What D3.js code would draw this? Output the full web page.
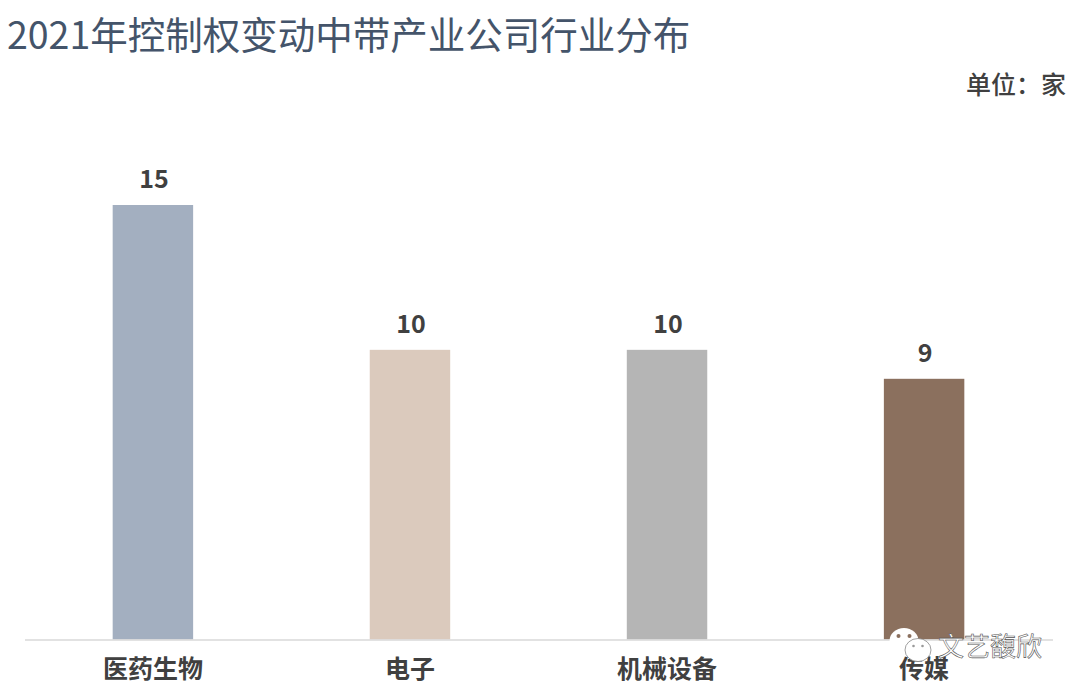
<!DOCTYPE html>
<html>
<head>
<meta charset="utf-8">
<script src="https://cdn.jsdelivr.net/npm/d3@7"></script>
<style>
  html, body { margin: 0; padding: 0; background: #fff; }
  svg { display: block; }
  text { font-family: "Noto Sans CJK SC", "Noto Sans", sans-serif; }
</style>
</head>
<body>
<div id="chart"></div>
<script>
var categories = ["医药生物", "电子", "机械设备", "传媒"];
var counts = [15, 10, 10, 9];
var barColors = ["#a3afc0", "#dbcabd", "#b5b5b5", "#8b705e"];
var titleText = "2021年控制权变动中带产业公司行业分布";
var unitText = "单位：家";
var watermarkText = "文艺馥欣";

var width = 1076, height = 694;

var svg = d3.select("#chart").append("svg")
    .attr("width", width)
    .attr("height", height);

var x = d3.scaleBand()
    .domain(categories)
    .range([24.5, 1052.5])
    .paddingInner(0.687)
    .paddingOuter(0.343);

var y = d3.scaleLinear()
    .domain([0, 15])
    .range([639.5, 205]);

svg.append("text")
    .attr("x", 7)
    .attr("y", 49)
    .attr("font-size", 37.5)
    .attr("fill", "#44546a")
    .text(titleText);

svg.append("text")
    .attr("x", 1066)
    .attr("y", 94)
    .attr("text-anchor", "end")
    .attr("font-size", 25)
    .attr("font-weight", 500)
    .attr("fill", "#404040")
    .text(unitText);

svg.selectAll("rect.bar")
    .data(counts)
    .enter().append("rect")
    .attr("class", "bar")
    .attr("x", function(d, i) { return x(categories[i]); })
    .attr("y", function(d) { return y(d); })
    .attr("width", x.bandwidth())
    .attr("height", function(d) { return y(0) - y(d); })
    .attr("fill", function(d, i) { return barColors[i]; });

svg.selectAll("text.value")
    .data(counts)
    .enter().append("text")
    .attr("class", "value")
    .attr("x", function(d, i) { return x(categories[i]) + x.bandwidth() / 2 + 1; })
    .attr("y", function(d) { return y(d) - 17; })
    .attr("text-anchor", "middle")
    .attr("font-size", 25)
    .attr("font-weight", 700)
    .attr("fill", "#404040")
    .text(function(d) { return d; });

var xAxis = svg.append("g")
    .attr("transform", "translate(0," + y(0) + ")")
    .call(d3.axisBottom(x).tickSize(0).tickPadding(21));

xAxis.select(".domain").attr("stroke", "#d9d9d9").attr("stroke-width", 1.5);
xAxis.selectAll("text")
    .attr("font-size", 25)
    .attr("font-weight", 700)
    .attr("fill", "#404040")
    .style("font-family", '"Noto Sans CJK SC", sans-serif');

// wechat watermark in the corner, white bubbles over the last bar
var mark = svg.append("g");
mark.append("path")
    .attr("d", "M895,648 L892,655 L902,652 Z")
    .attr("fill", "#fff");
mark.append("ellipse")
    .attr("cx", 904).attr("cy", 641).attr("rx", 14.5).attr("ry", 13)
    .attr("fill", "#fff");
mark.selectAll("circle.big")
    .data([-5.5, 5.5])
    .enter().append("circle")
    .attr("class", "big")
    .attr("cx", function(d) { return 904 + d; })
    .attr("cy", 636).attr("r", 2)
    .attr("fill", "#8b705e");
mark.append("ellipse")
    .attr("cx", 918).attr("cy", 650).attr("rx", 13).attr("ry", 11.5)
    .attr("fill", "#fff").attr("stroke", "#777").attr("stroke-width", 0.7);
mark.selectAll("circle.small")
    .data([-4.5, 4.5])
    .enter().append("circle")
    .attr("class", "small")
    .attr("cx", function(d) { return 918 + d; })
    .attr("cy", 646).attr("r", 1.3)
    .attr("fill", "#999");

svg.append("text")
    .attr("x", 938)
    .attr("y", 656)
    .attr("font-size", 26)
    .attr("fill", "#fff")
    .attr("stroke", "#555")
    .attr("stroke-width", 0.6)
    .text(watermarkText);
</script>
</body>
</html>
